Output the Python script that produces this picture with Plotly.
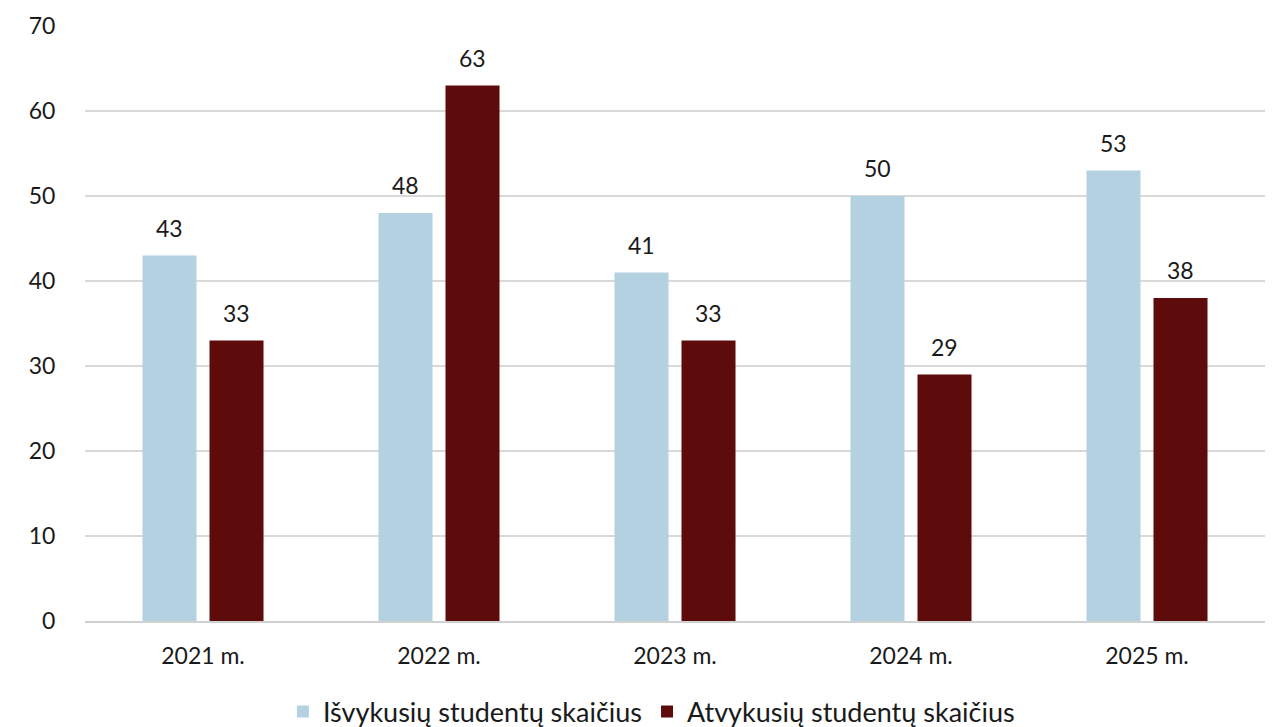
import plotly.graph_objects as go

categories = ["2021 m.", "2022 m.", "2023 m.", "2024 m.", "2025 m."]
isvykusiu = [43, 48, 41, 50, 53]
atvykusiu = [33, 63, 33, 29, 38]
series_names = ["Išvykusių studentų skaičius", "Atvykusių studentų skaičius"]

FONT = "Lato"
TXT = "#1a1a1a"
fig = go.Figure()
fig.add_trace(go.Bar(x=categories, y=isvykusiu, name=series_names[0],
                     marker=dict(color="#B4D1E2", line=dict(width=0))))
fig.add_trace(go.Bar(x=categories, y=atvykusiu, name=series_names[1],
                     marker=dict(color="#5E0B0B", line=dict(width=0))))

# data labels above bars
for vals, dx in ((isvykusiu, -33.5), (atvykusiu, 33.5)):
    for c, v in zip(categories, vals):
        fig.add_annotation(x=c, y=v, text=str(v), showarrow=False, xshift=dx,
                           yanchor="bottom", yshift=12,
                           font=dict(size=23, color=TXT, family=FONT))

fig.update_layout(
    width=1270, height=719,
    margin=dict(l=77, r=13, t=18, b=106, autoexpand=False),
    paper_bgcolor="white", plot_bgcolor="white",
    barmode="group", bargap=0.432, bargroupgap=0.194,
    font=dict(family=FONT, size=23, color=TXT),
    showlegend=True,
    legend=dict(orientation="h", x=0.48, xanchor="center", y=-0.153, yanchor="middle",
                font=dict(size=27, color=TXT, family=FONT), traceorder="normal"),
    yaxis=dict(range=[0, 70], dtick=10, showgrid=True, gridcolor="#d9d9d9", gridwidth=1.5,
               zeroline=False, showline=False, ticks="outside", ticklen=24, automargin=False,
               tickcolor="rgba(0,0,0,0)", tickfont=dict(size=23, color=TXT)),
    xaxis=dict(showline=True, linecolor="#d0d0d0", linewidth=1.5, ticks="outside", automargin=False,
               ticklen=14, tickcolor="rgba(0,0,0,0)", tickfont=dict(size=23, color=TXT)),
)
fig.write_html("out.html")
